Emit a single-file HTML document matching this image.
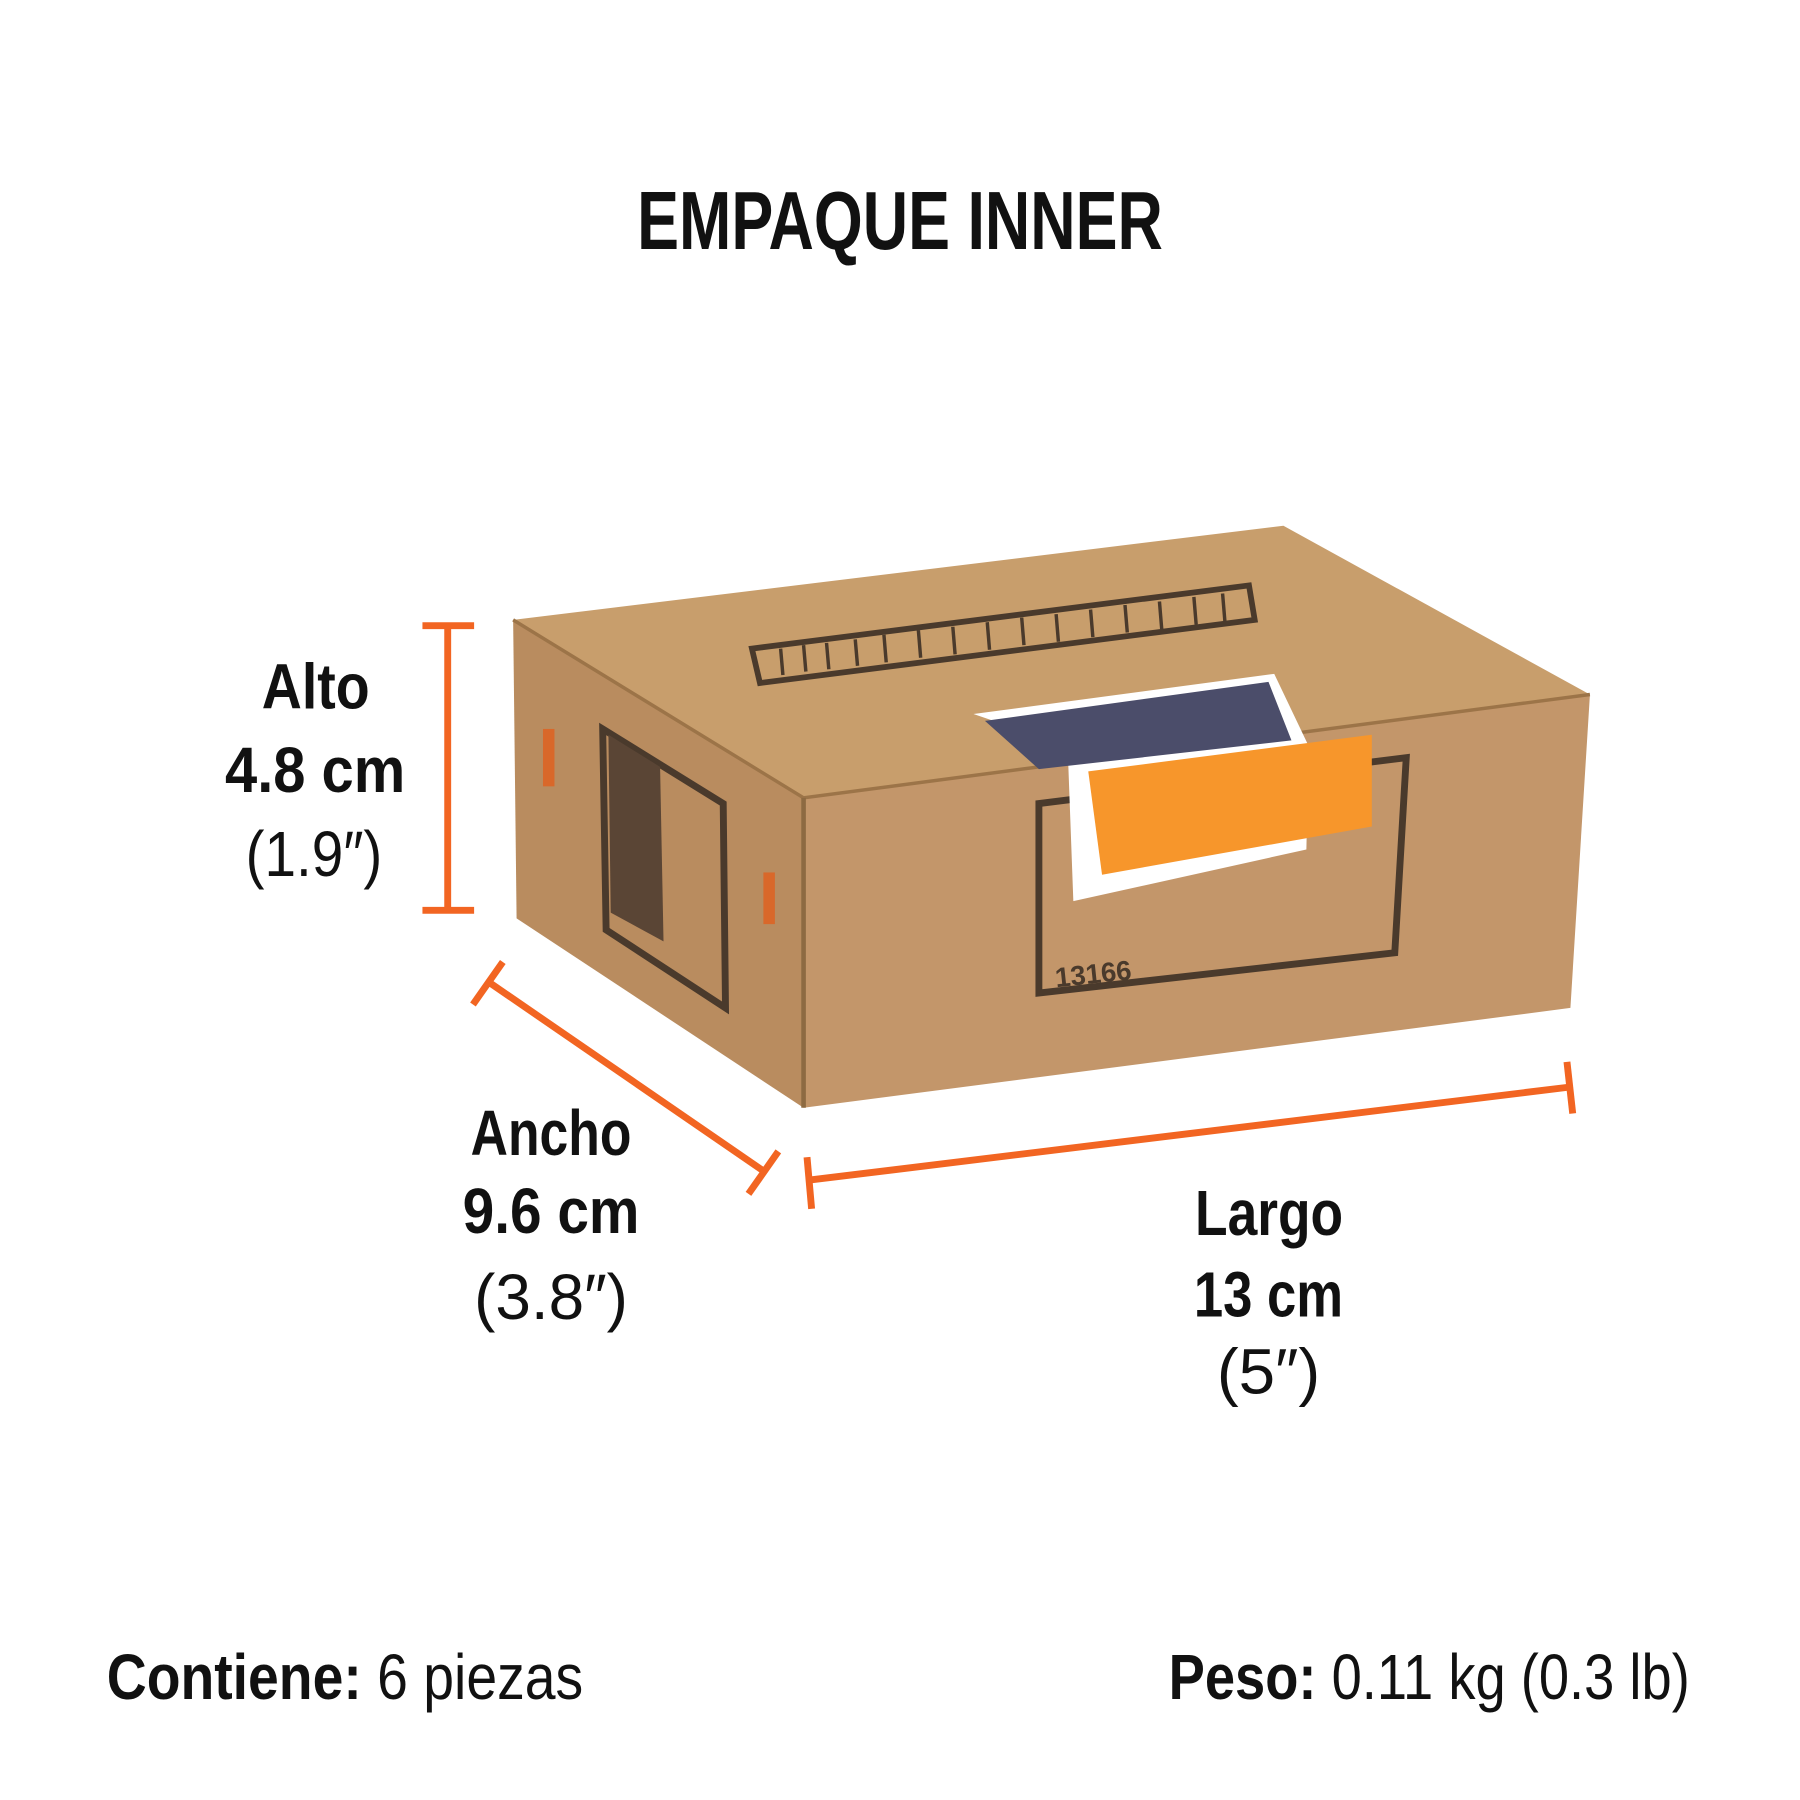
<!DOCTYPE html>
<html><head><meta charset="utf-8"><style>
html,body{margin:0;padding:0;background:#fff;}
svg{display:block;}
text{font-family:"Liberation Sans Narrow","Liberation Sans",sans-serif;font-weight:bold;fill:#111;}
</style></head><body>
<svg width="1800" height="1800" viewBox="0 0 1568 1568" xmlns="http://www.w3.org/2000/svg">
<rect width="1568" height="1568" fill="#fff"/>
<text x="555" y="217" font-size="72" textLength="458" lengthAdjust="spacingAndGlyphs">EMPAQUE INNER</text>

<!-- box -->
<polygon points="447,540 1118,458 1385,605 700,695" fill="#c89e6c"/>
<polygon points="700,695 1385,605 1368,878 700,965" fill="#c3966a"/>
<polygon points="447,540 700,695 700,965 450,800" fill="#b98c5f"/>
<polyline points="447,540 700,695 1385,605" fill="none" stroke="#9c7448" stroke-width="3"/>
<line x1="700" y1="695" x2="700" y2="965" stroke="#8d6a42" stroke-width="4"/>
<polygon points="655,565 1088,510 1093,540 662,595" fill="none" stroke="#4a3a2c" stroke-width="5"/>
<g stroke="#4a3a2c" stroke-width="3">
<line x1="680" y1="565" x2="682" y2="588"/><line x1="700" y1="562" x2="702" y2="585"/><line x1="720" y1="560" x2="722" y2="583"/><line x1="745" y1="557" x2="747" y2="580"/><line x1="770" y1="553" x2="772" y2="577"/><line x1="800" y1="549" x2="802" y2="573"/><line x1="830" y1="546" x2="832" y2="570"/><line x1="860" y1="542" x2="862" y2="566"/><line x1="890" y1="538" x2="892" y2="562"/><line x1="920" y1="535" x2="922" y2="559"/><line x1="950" y1="531" x2="952" y2="555"/><line x1="980" y1="527" x2="982" y2="551"/><line x1="1010" y1="524" x2="1012" y2="548"/><line x1="1040" y1="520" x2="1042" y2="544"/><line x1="1065" y1="517" x2="1067" y2="541"/>
</g>
<polygon points="905,700 1225,660 1215,830 905,865" fill="none" stroke="#4a3a2c" stroke-width="6"/>
<text x="920" y="860" font-size="24" transform="rotate(-6 920 860)" style="fill:#4a3a2c">13166</text>
<polygon points="525,635 630,700 632,878 528,810" fill="none" stroke="#4a3a2c" stroke-width="6"/>
<polygon points="530,640 575,668 578,820 532,795" fill="#5a4535"/>
<polygon points="848,622 1110,587 1140,650 1138,740 935,785 930,650" fill="#fff"/>
<polygon points="858,628 1105,594 1125,645 905,670" fill="#4b4d6a"/>
<polygon points="948,672 1195,640 1195,720 960,762" fill="#f7962b"/>
<rect x="473" y="635" width="10" height="50" fill="#d9682a"/>
<rect x="665" y="760" width="10" height="45" fill="#d9682a"/>

<g stroke="#f26522" stroke-width="6" fill="none">
<line x1="390" y1="545" x2="390" y2="793"/>
<line x1="368" y1="545" x2="413" y2="545"/>
<line x1="368" y1="793" x2="413" y2="793"/>
<line x1="425" y1="855" x2="665" y2="1020"/>
<line x1="412" y1="875" x2="438" y2="838"/>
<line x1="652" y1="1040" x2="678" y2="1003"/>
<line x1="705" y1="1028" x2="1367" y2="947"/>
<line x1="703" y1="1008" x2="707" y2="1053"/>
<line x1="1365" y1="925" x2="1370" y2="970"/>
</g>

<g font-size="56" lengthAdjust="spacingAndGlyphs">
<text x="228" y="617" textLength="94" lengthAdjust="spacingAndGlyphs">Alto</text>
<text x="196" y="690" textLength="157" lengthAdjust="spacingAndGlyphs">4.8 cm</text>
<text x="214" y="763" textLength="119" lengthAdjust="spacingAndGlyphs" style="font-weight:normal">(1.9″)</text>
<text x="410" y="1006" textLength="140" lengthAdjust="spacingAndGlyphs">Ancho</text>
<text x="403" y="1074" textLength="154" lengthAdjust="spacingAndGlyphs">9.6 cm</text>
<text x="413" y="1149" textLength="134" lengthAdjust="spacingAndGlyphs" style="font-weight:normal">(3.8″)</text>
<text x="1041" y="1076" textLength="129" lengthAdjust="spacingAndGlyphs">Largo</text>
<text x="1040" y="1147" textLength="130" lengthAdjust="spacingAndGlyphs">13 cm</text>
<text x="1060" y="1214" textLength="90" lengthAdjust="spacingAndGlyphs" style="font-weight:normal">(5″)</text>
<text x="93" y="1480" textLength="415" lengthAdjust="spacingAndGlyphs">Contiene: <tspan style="font-weight:normal">6 piezas</tspan></text>
<text x="1018" y="1480" textLength="454" lengthAdjust="spacingAndGlyphs">Peso: <tspan style="font-weight:normal">0.11 kg (0.3 lb)</tspan></text>
</g>
</svg>
</body></html>
